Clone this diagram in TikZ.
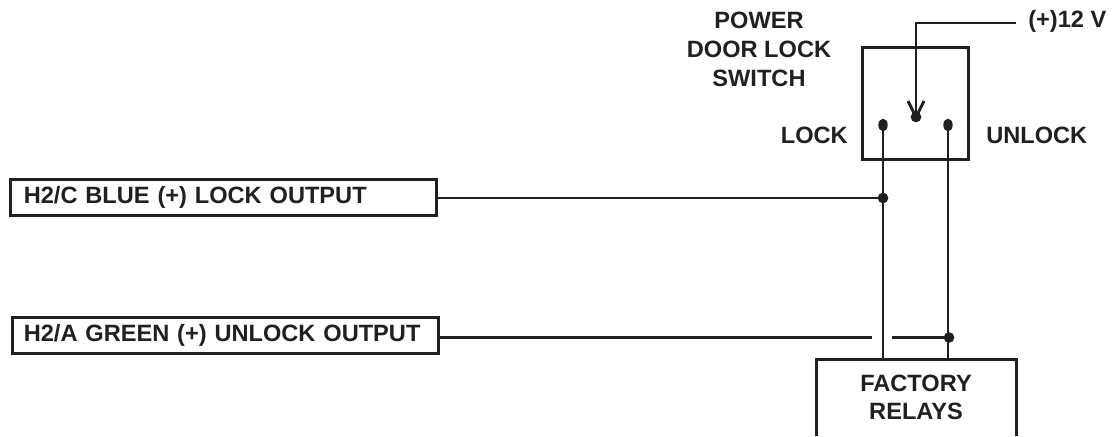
\documentclass[tikz,border=0pt]{standalone}
\usepackage{fontspec}
\setmainfont{Liberation Sans}
\definecolor{ink}{HTML}{231F20}
\usetikzlibrary{shapes.geometric}
\tikzset{
  x=0.75pt,y=-0.75pt,
  wire/.style={draw=ink,line width=2.2pt},
  boxline/.style={draw=ink,line width=2.25pt},
  lbl/.style={text=ink,font=\bfseries\fontsize{17.7}{21.5}\selectfont,align=center,inner sep=0pt},
  outbox/.style={boxline,fill=white,minimum height=27pt,inner sep=0pt,anchor=west,text=ink,font=\bfseries\fontsize{17.7}{21}\selectfont},
  dot/.style={ellipse,fill=ink,minimum width=7pt,minimum height=9.5pt,inner sep=0pt,draw=none},
  cdot/.style={circle,fill=ink,minimum size=8pt,inner sep=0pt,draw=none},
  junct/.style={cdot},
}
\begin{document}
\begin{tikzpicture}
\useasboundingbox[fill=white] (0,0) rectangle (1112,436);
% switch
\node[boxline,minimum width=80pt,minimum height=84pt,inner sep=0pt] (switch) at (915.5,103) {};
\node[cdot] (com) at (916,117) {};
\node[dot] (lk) at (883,125) {};
\node[dot] (ul) at (948,125) {};
\node[lbl] (title) at (759,49.5) {POWER\\DOOR LOCK\\SWITCH};
\node[lbl,anchor=east] (locklbl) at (848,135) {LOCK};
\node[lbl,anchor=west] (unlocklbl) at (986,135) {UNLOCK};
\node[lbl,anchor=west] (v12) at (1028,21.5) {(+)12 V};
\coordinate (vend) at (1016,23);
\coordinate (vcorner) at (916,23);
\draw[wire] (vend) -- (vcorner) -- (com.center);
\coordinate (al) at (908,101);
\coordinate (ar) at (924,101);
\draw[wire] (al) -- (com.center) -- (ar);
% output boxes
\node[outbox,minimum width=319.5pt,text width=319.5pt,align=left] (blue) at (9,197) {\hspace{10pt}H2/C BLUE (+) LOCK OUTPUT};
\node[outbox,minimum width=319.5pt,text width=319.5pt,align=left] (green) at (11,335) {\hspace{8.5pt}H2/A GREEN (+) UNLOCK OUTPUT};
% relays
\coordinate (rbl) at (816,436);
\coordinate (rtl) at (816,359);
\coordinate (rtr) at (1016,359);
\coordinate (rbr) at (1016,436);
\node[lbl,font=\bfseries\fontsize{17.7}{21}\selectfont] (relays) at (916,397) {FACTORY\\RELAYS};
\coordinate (lkb) at (lk |- rtl);
\coordinate (ulb) at (ul |- rtl);
\node[junct] (j1) at (883,198) {};
\node[junct] (j2) at (949,337.5) {};
\draw[wire] (lk.center) -- (lkb);
\draw[wire] (ul.center) -- (ulb);
\draw[wire] (blue.east |- j1) -- (j1.center);
\coordinate (g1) at (872,337.5);
\coordinate (g2) at (891.5,337.5);
\draw[wire] (green.east |- g1) -- (g1);
\draw[wire] (g2) -- (j2.center);
\draw[boxline] (rbl) -- (rtl) -- (rtr) -- (rbr);
\end{tikzpicture}
\end{document}
